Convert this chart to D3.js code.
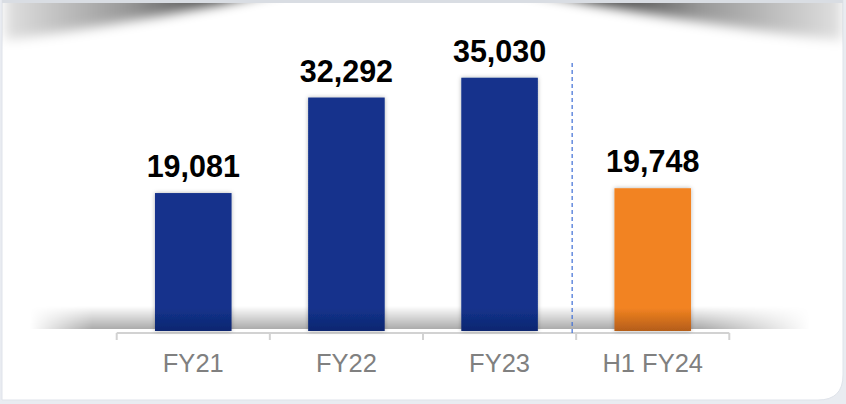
<!DOCTYPE html>
<html>
<head>
<meta charset="utf-8">
<script src="https://cdn.jsdelivr.net/npm/d3@7"></script>
<style>
  html, body { margin: 0; padding: 0; background: #e9ecf1; }
  svg { display: block; }
</style>
</head>
<body>
<svg width="846" height="404"></svg>
<script>
// chart data
var categories = ["FY21", "FY22", "FY23", "H1 FY24"];
var values = [19081, 32292, 35030, 19748];
var labels = ["19,081", "32,292", "35,030", "19,748"];

var barTop = ["#13338c", "#13338c", "#13338c", "#f28321"];
var barBottom = ["#0e2670", "#0e2670", "#0e2670", "#b45d19"];

var svg = d3.select("svg");
var defs = svg.append("defs");

// white panel
var panelPath = "M2,0 H843 V375 Q843,400 818,400 H2 Z";
defs.append("clipPath").attr("id", "panelClip").append("path").attr("d", panelPath);
svg.append("path").attr("d", panelPath).attr("fill", "#fff").attr("stroke", "#dfe3ea").attr("stroke-width", 1);

// curled shadow along the top
var blur = defs.append("filter").attr("id", "blur").attr("x", "-30%").attr("y", "-100%").attr("width", "160%").attr("height", "300%");
blur.append("feGaussianBlur").attr("stdDeviation", 6);

function hGrad(id, x1, x2, stops) {
  var g = defs.append("linearGradient").attr("id", id).attr("gradientUnits", "userSpaceOnUse")
    .attr("x1", x1).attr("y1", 0).attr("x2", x2).attr("y2", 0);
  stops.forEach(function(s) {
    g.append("stop").attr("offset", s[0]).attr("stop-color", "#000").attr("stop-opacity", s[1]);
  });
}
hGrad("curlL", 5, 275, [[0, 0.12], [0.45, 0.4], [0.8, 0.75], [1, 0.6]]);
hGrad("curlR", 530, 842, [[0, 0.6], [0.2, 0.8], [0.55, 0.4], [1, 0.12]]);

var topShade = svg.append("g").attr("clip-path", "url(#panelClip)");
topShade.append("path").attr("d", "M5,-10 L5,40 C80,30 180,14 285,-10 Z")
  .attr("fill", "url(#curlL)").attr("filter", "url(#blur)");
topShade.append("path").attr("d", "M842,-10 L842,40 C760,32 640,14 520,-10 Z")
  .attr("fill", "url(#curlR)").attr("filter", "url(#blur)");
topShade.append("rect").attr("x", 2).attr("y", 0).attr("width", 841).attr("height", 3).attr("fill", "#d9dde3");

// scales
var x = d3.scaleBand().domain(categories).range([116.7, 729.3]).paddingInner(0.5).paddingOuter(0.25);
var y = d3.scaleLinear().domain([0, 40000]).range([331, 331 - 289.2]);

// baseline shadow
var sg = defs.append("linearGradient").attr("id", "baseShade").attr("x1", 0).attr("y1", 0).attr("x2", 0).attr("y2", 1);
sg.append("stop").attr("offset", 0).attr("stop-color", "#000").attr("stop-opacity", 0);
sg.append("stop").attr("offset", 1).attr("stop-color", "#000").attr("stop-opacity", 0.33);
var mg = defs.append("linearGradient").attr("id", "baseFade").attr("x1", 0).attr("y1", 0).attr("x2", 1).attr("y2", 0);
mg.append("stop").attr("offset", 0).attr("stop-color", "#fff").attr("stop-opacity", 0);
mg.append("stop").attr("offset", 0.08).attr("stop-color", "#fff").attr("stop-opacity", 1);
mg.append("stop").attr("offset", 0.86).attr("stop-color", "#fff").attr("stop-opacity", 1);
mg.append("stop").attr("offset", 1).attr("stop-color", "#fff").attr("stop-opacity", 0);
defs.append("mask").attr("id", "baseMask").attr("maskContentUnits", "userSpaceOnUse")
  .append("rect").attr("x", 30).attr("y", 300).attr("width", 780).attr("height", 40).attr("fill", "url(#baseFade)");
svg.append("rect").attr("x", 30).attr("y", 306).attr("width", 780).attr("height", 23)
  .attr("fill", "url(#baseShade)").attr("mask", "url(#baseMask)");

// axis at band boundaries
var axisY = 333;
var bounds = categories.map(function(c) { return x(c) + x.bandwidth() / 2 - x.step() / 2; });
bounds.push(x(categories[categories.length - 1]) + x.bandwidth() / 2 + x.step() / 2);
var axis = svg.append("g");
axis.append("line").attr("x1", bounds[0]).attr("x2", bounds[bounds.length - 1])
  .attr("y1", axisY).attr("y2", axisY).attr("stroke", "#d2d2d2").attr("stroke-width", 2);
axis.selectAll(".tick").data(bounds).enter().append("line")
  .attr("x1", function(d) { return d; }).attr("x2", function(d) { return d; })
  .attr("y1", axisY).attr("y2", axisY + 7).attr("stroke", "#d2d2d2").attr("stroke-width", 2);

// divider between full years and half year
var divX = bounds[3] - 4;
svg.append("line").attr("x1", divX).attr("x2", divX).attr("y1", 63).attr("y2", axisY)
  .attr("stroke", "#3f6fd6").attr("stroke-width", 1.2).attr("stroke-dasharray", "4,3");

// bar gradients and shadow
categories.forEach(function(c, i) {
  var g = defs.append("linearGradient").attr("id", "bar" + i).attr("gradientUnits", "userSpaceOnUse")
    .attr("x1", 0).attr("y1", 308).attr("x2", 0).attr("y2", 331);
  g.append("stop").attr("offset", 0).attr("stop-color", barTop[i]);
  g.append("stop").attr("offset", 1).attr("stop-color", barBottom[i]);
});
var sh = defs.append("filter").attr("id", "barShadow").attr("x", "-20%").attr("y", "-10%").attr("width", "140%").attr("height", "120%");
sh.append("feDropShadow").attr("dx", 0).attr("dy", 0).attr("stdDeviation", 2).attr("flood-color", "#000").attr("flood-opacity", 0.3);

svg.selectAll(".bar").data(values).enter().append("rect")
  .attr("class", "bar")
  .attr("x", function(d, i) { return x(categories[i]); })
  .attr("y", function(d) { return y(d); })
  .attr("width", x.bandwidth())
  .attr("height", function(d) { return y(0) - y(d); })
  .attr("fill", function(d, i) { return "url(#bar" + i + ")"; })
  .attr("filter", "url(#barShadow)");

// value labels
svg.selectAll(".val").data(values).enter().append("text")
  .attr("class", "val")
  .attr("x", function(d, i) { return x(categories[i]) + x.bandwidth() / 2; })
  .attr("y", function(d) { return y(d) - 16; })
  .attr("text-anchor", "middle")
  .style("font-family", "'Liberation Sans', Arial, sans-serif")
  .style("font-weight", "bold")
  .style("font-size", "30.5px")
  .attr("fill", "#000")
  .text(function(d, i) { return labels[i]; });

// category labels
svg.selectAll(".cat").data(categories).enter().append("text")
  .attr("class", "cat")
  .attr("x", function(d) { return x(d) + x.bandwidth() / 2; })
  .attr("y", 372)
  .attr("text-anchor", "middle")
  .style("font-family", "'Liberation Sans', Arial, sans-serif")
  .style("font-size", "25.5px")
  .attr("fill", "#808080")
  .text(function(d) { return d; });
</script>
</body>
</html>
